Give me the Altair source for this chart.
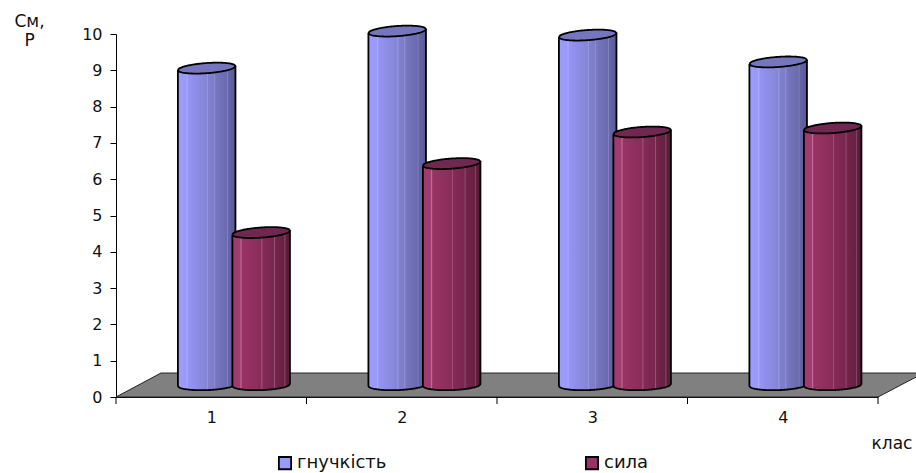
import numpy as np
import pandas as pd
import altair as alt

classes = [1, 2, 3, 4]
flexibility = [8.73, 9.75, 9.64, 8.9]
strength = [4.2, 6.1, 6.97, 7.08]
series_names = ["гнучкість", "сила"]
legend_colors = ["#9999FF", "#993366"]

FONT = "DejaVu Sans"

# Cylinder proportions, in axis units
HALF_WIDTH = 0.151
BLUE_SHIFT = -0.024
RED_SHIFT = 0.262
DEPTH = 0.33       # floor depth lifts every column above the front axis line
RY = 0.14          # half height of the elliptical caps
TILT = 0.055       # caps lean slightly upward to the right
TS = np.linspace(-1, 1, 61)


def cylinder_frames(values, shift):
    bodies, caps, outlines = [], [], []
    for cls, value in zip(classes, values):
        cx = cls + shift
        top = value + DEPTH
        arc = RY * np.sqrt(1 - TS**2)
        xs = cx + HALF_WIDTH * TS
        lean = TILT * TS
        bodies.append(pd.DataFrame({"id": cls, "x": xs, "y": top + lean,
                                    "y2": DEPTH + lean * 0.5 - arc}))
        caps.append(pd.DataFrame({"id": cls, "x": xs, "y": top + lean + arc,
                                  "y2": top + lean - arc}))
        # cap ring followed by the open left / bottom / right silhouette
        ring_x = np.r_[xs, xs[::-1]]
        ring_y = np.r_[top + lean + arc, (top + lean - arc)[::-1]]
        outlines.append(pd.DataFrame({"id": f"{cls}-cap", "x": ring_x, "y": ring_y}))
        side_x = np.r_[xs[0], xs, xs[-1]]
        side_y = np.r_[top + lean[0], DEPTH + lean * 0.5 - arc, top + lean[-1]]
        outlines.append(pd.DataFrame({"id": f"{cls}-side", "x": side_x, "y": side_y}))
    outline = pd.concat(outlines, ignore_index=True)
    outline["o"] = outline.index
    return pd.concat(bodies), pd.concat(caps), outline


def shaded(stops):
    return alt.Gradient(
        gradient="linear", x1=0, x2=1, y1=0, y2=0,
        stops=[alt.GradientStop(offset=o, color=c) for o, c in stops],
    )


blue_fill = shaded([(0, "#9C9CFF"), (0.14, "#9A9AFA"), (0.16, "#ABABFF"), (0.18, "#9494F4"),
                    (0.5, "#8585D6"), (0.51, "#9C9CE2"), (0.53, "#8080CF"), (0.62, "#7C7CC8"),
                    (0.63, "#9494D8"), (0.65, "#7777C2"), (0.85, "#6A6AAE"), (0.86, "#8484BE"),
                    (0.88, "#6565A6"), (1, "#5A5A94")])
red_fill = shaded([(0, "#A03A6C"), (0.13, "#A03C70"), (0.15, "#C06A94"), (0.17, "#983464"),
                   (0.5, "#8A2C5A"), (0.51, "#A8587E"), (0.53, "#842A56"), (0.72, "#782650"),
                   (0.73, "#96587A"), (0.75, "#722449"), (0.9, "#682142"), (0.91, "#845070"),
                   (0.93, "#601E3D"), (1, "#541A36")])

x_scale = alt.Scale(domain=[0.5, 4.5], nice=False, zero=False)
y_scale = alt.Scale(domain=[0, 10], nice=False, zero=False)
x_axis = alt.Axis(
    values=classes, format="d", tickSize=0, labelPadding=12, labelFontSize=16,
    labelFont=FONT, labelColor="#111111", grid=False, domainColor="#000000", labelFlush=False,
    labelOverlap=False, labelAngle=0,
    title="клас", titleFont=FONT, titleFontSize=17, titleFontWeight="normal",
    titleColor="#111111", titleX=755, titleY=51, titleAlign="left", titleBaseline="alphabetic")
y_axis = alt.Axis(
    values=list(range(11)), format="d", tickSize=6, tickColor="#000000", labelPadding=8,
    labelFontSize=16, labelFont=FONT, labelColor="#111111", grid=False, labelOverlap=False,
    domainColor="#000000", title=["См,", "Р"], titleFont=FONT, titleFontSize=17,
    titleLineHeight=19, titleFontWeight="normal", titleColor="#111111", titleAngle=0,
    titleAlign="center", titleBaseline="alphabetic", titleX=-87, titleY=-8)
X = alt.X("x:Q", scale=x_scale, axis=x_axis)
Y = alt.Y("y:Q", scale=y_scale, axis=y_axis)

# Grey floor of the 3D plot
floor_x = [0.5, 0.736, 4.5, 4.74]
floor_y = [0, 0.66, 0.66, 0.66]
floor_y2 = [0, 0, 0, 0.66]
floor = pd.DataFrame({"x": floor_x, "y": floor_y, "y2": floor_y2})
floor_edge = pd.DataFrame({"x": [0.5, 0.736, 4.74, 4.5, 0.5],
                           "y": [0, 0.66, 0.66, 0, 0],
                           "o": range(5)})
floor_layer = alt.Chart(floor).mark_area(fill="#808080", line=False).encode(X, Y, y2="y2:Q")
floor_line = alt.Chart(floor_edge).mark_line(color="#222222", strokeWidth=1).encode(X, Y, order="o:Q")

# Category boundaries on the front edge of the floor
tick_frame = pd.DataFrame({"x": [0.5, 1.5, 2.5, 3.5, 4.5]})
ticks = alt.Chart(tick_frame).mark_rule(color="#000000", strokeWidth=1).encode(
    x=X,
    y=alt.value(363), y2=alt.value(370),
)

# Legend driven by small squares tucked behind the columns
legend_frame = pd.DataFrame({
    "x": [1.0, 1.2], "y": [3.0, 3.0], "series": series_names,
})
legend_layer = alt.Chart(legend_frame).mark_square(size=4).encode(
    X, Y,
    color=alt.Color("series:N", scale=alt.Scale(domain=series_names, range=legend_colors),
                    legend=alt.Legend(
                        orient="none", legendX=160, legendY=420, direction="horizontal",
                        columns=2, columnPadding=195, title=None, symbolType="square",
                        symbolSize=150, symbolStrokeColor="#000000", symbolStrokeWidth=1.8,
                        symbolOpacity=1, labelFont=FONT, labelFontSize=18,
                        labelColor="#111111", labelOffset=3, labelLimit=200)),
)


def cylinder_layers(values, shift, fill, cap):
    body, top, outline = cylinder_frames(values, shift)
    return [
        alt.Chart(body).mark_area(fill=fill, line=False).encode(X, Y, y2="y2:Q", detail="id:N"),
        alt.Chart(top).mark_area(fill=cap, line=False).encode(X, Y, y2="y2:Q", detail="id:N"),
        alt.Chart(outline).mark_line(color="#000000", strokeWidth=1.8).encode(
            X, Y, detail="id:N", order="o:Q"),
    ]


chart = alt.layer(
    legend_layer, floor_layer, floor_line, ticks,
    *cylinder_layers(flexibility, BLUE_SHIFT, blue_fill, "#7676BE"),
    *cylinder_layers(strength, RED_SHIFT, red_fill, "#702850"),
).properties(
    width=762, height=363,
    padding={"left": 116, "top": 34, "right": 38, "bottom": 76},
    autosize=alt.AutoSizeParams(type="none"),
    background="#FFFFFF",
).configure_view(stroke=None)

chart.save("out.html", embed_options={"renderer": "svg", "actions": False})
